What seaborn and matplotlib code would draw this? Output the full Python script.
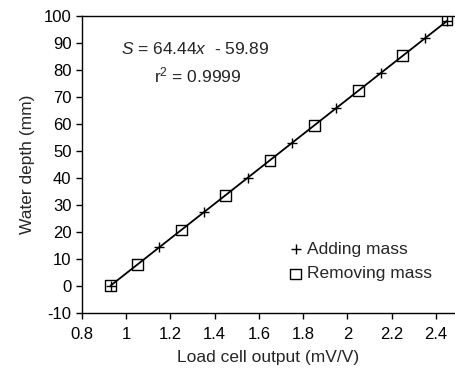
import numpy as np
import pandas as pd
import matplotlib
matplotlib.use("Agg")
import matplotlib.pyplot as plt
import seaborn as sns

# readings taken while adding mass
add_x = [0.93, 1.15, 1.35, 1.55, 1.75, 1.95, 2.15, 2.35, 2.45]
add_y = [0.0, 14.2, 27.1, 40.0, 52.9, 65.8, 78.7, 91.5, 98.0]

# readings taken while removing mass
rem_x = [0.93, 1.05, 1.25, 1.45, 1.65, 1.85, 2.05, 2.25, 2.45]
rem_y = [0.0, 7.8, 20.6, 33.5, 46.4, 59.3, 72.2, 85.1, 98.5]

slope, intercept = 64.44, -59.89
fit_x = [0.93, 2.45]

sns.set_style("ticks")
plt.rcParams['font.family'] = ['Liberation Sans', 'DejaVu Sans']
plt.rcParams['axes.unicode_minus'] = False
plt.rcParams['mathtext.fontset'] = 'custom'
plt.rcParams['mathtext.rm'] = 'Liberation Sans'
plt.rcParams['mathtext.it'] = 'Liberation Sans:italic'

fig = plt.figure(figsize=(4.55, 3.79), dpi=100)
ax = fig.add_axes([0.18, 0.175, 0.817, 0.784])

fit = pd.DataFrame({'x': fit_x, 'y': [slope * v + intercept for v in fit_x]})
sns.lineplot(data=fit, x='x', y='y', color='black', lw=1.3, ax=ax)

sns.scatterplot(x=add_x, y=add_y, marker='+', s=50, color='black', linewidth=1.0,
                label='Adding mass', ax=ax, zorder=3)
sns.scatterplot(x=rem_x, y=rem_y, marker='s', s=60, facecolor='none', edgecolor='black',
                linewidth=1.0, label='Removing mass', ax=ax, zorder=3)

ax.set_xlim(0.8, 2.48)
ax.set_ylim(-10, 100)
ax.set_xticks(np.arange(0.8, 2.41, 0.2))
ax.set_xticklabels(['0.8', '1', '1.2', '1.4', '1.6', '1.8', '2', '2.2', '2.4'])
ax.set_yticks(np.arange(-10, 101, 10))
ax.tick_params(labelsize=12, length=4, width=1, color='black', labelcolor='black')
ax.tick_params(axis='x', pad=6)
ax.set_xlabel('Load cell output (mV/V)', fontsize=12.5, labelpad=6)
ax.set_ylabel('Water depth (mm)', fontsize=12.5, labelpad=6)

ax.spines['top'].set_visible(True)
ax.spines['right'].set_visible(False)
for s in ['top', 'left', 'bottom']:
    ax.spines[s].set_color('black')
    ax.spines[s].set_linewidth(1.0)

ax.text(0.105, 0.889, r'$S$ = 64.44$x$  - 59.89', transform=ax.transAxes, fontsize=12.5,
        va='center')
ax.text(0.195, 0.799, r'r$^2$ = 0.9999', transform=ax.transAxes, fontsize=12.5, va='center')

ax.legend(loc='lower right', bbox_to_anchor=(0.97, 0.07), frameon=False, fontsize=12.5,
          handletextpad=0.15, handlelength=1.0, borderaxespad=0.2, labelspacing=0.55)

fig.savefig('out.png', dpi=100)
